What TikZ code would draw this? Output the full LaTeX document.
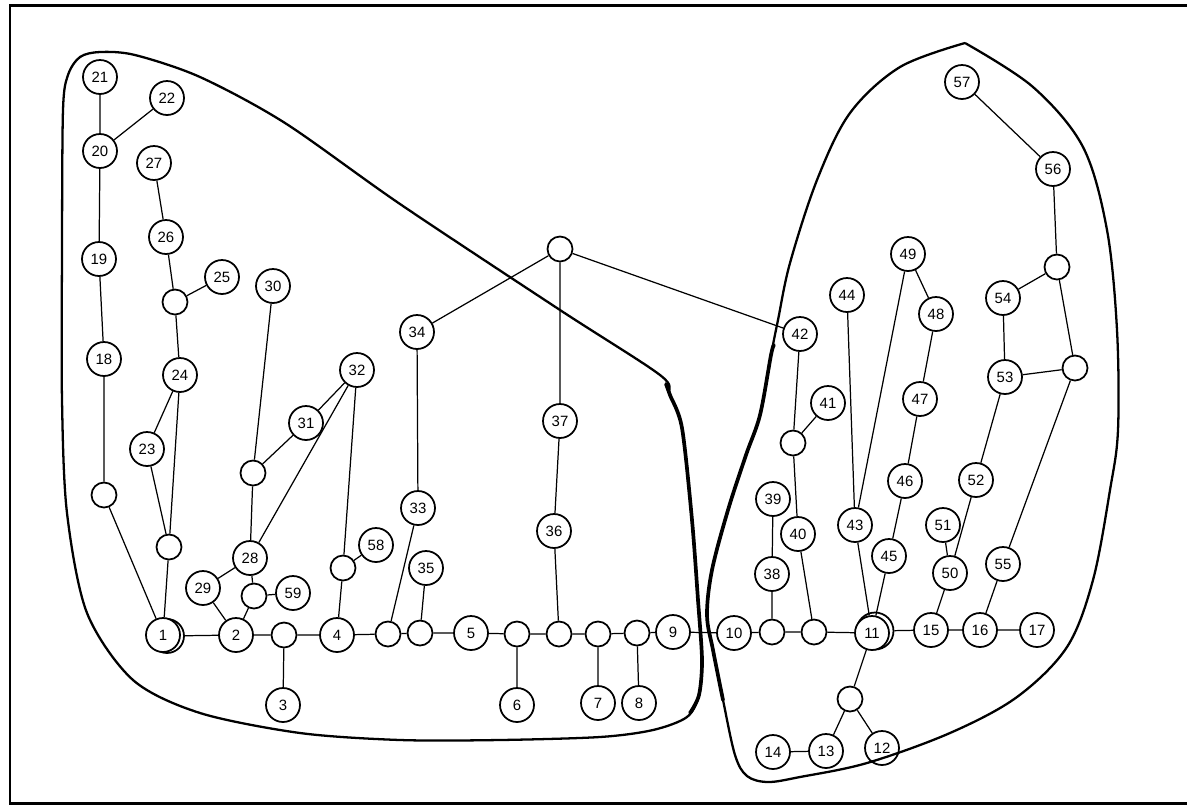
\documentclass[tikz,border=0pt]{standalone}
\usepackage{fontspec}
\setmainfont{Liberation Sans}
\begin{document}
\begin{tikzpicture}[x={(0.02cm,0)},y={(0,-0.02cm)},
  lab/.style={circle,draw,line width=1pt,minimum size=0.68cm,inner sep=0pt,font=\fontsize{8.5}{9}\selectfont},
  blank/.style={circle,draw,line width=1pt,minimum size=0.5cm,inner sep=0pt},
  edge/.style={line width=0.7pt},
  blob/.style={line width=1.3pt},
  thickblob/.style={line width=2.1pt,line cap=round},
  frame/.style={line width=1.7pt}]
\useasboundingbox (0,0) rectangle (1187,806);
\draw[frame] (1187,5) -- (10,5) -- (10,803) -- (1187,803);
% outlines
\draw[blob] plot[smooth cycle,tension=0.5] coordinates {(63,110) (68,75) (80,57) (100,52) (135,55) (200,77) (285,123) (400,204) (560,310) (660,375) (670,395) (682,428) (692,520) (698,600) (702,660) (699,695) (687,717) (653,730) (600,737) (500,740) (400,740) (300,733) (200,713) (133,680) (87,613) (67,513) (62,400) (62,250)};
\draw[thickblob] plot[smooth,tension=0.5] coordinates {(666,384) (670,395) (682,428) (692,520) (698,600) (702,660) (699,695) (690,713)};
\draw[blob] plot[smooth,tension=0.55] coordinates {(965,43) (1033,87) (1083,147) (1107,230) (1117,330) (1118,430) (1110,490) (1093,580) (1067,647) (1017,697) (950,733) (867,763) (800,777) (768,782) (747,776) (735,755) (723,700) (713,650) (707,615) (712,570) (728,510) (746,455) (760,415) (771,355) (778,320) (790,263) (817,180) (850,113) (900,67) (965,43)};
\draw[thickblob] plot[smooth,tension=0.55] coordinates {(774,345) (771,355) (760,415) (746,455) (728,510) (712,570) (707,615) (713,650) (723,700)};
% left nodes
\node[lab] (n21) at (100,77) {21};
\node[lab] (n22) at (167,98) {22};
\node[lab] (n20) at (100,151) {20};
\node[lab] (n27) at (154,163) {27};
\node[lab] (n26) at (166,237) {26};
\node[lab] (n19) at (99,259) {19};
\node[lab] (n25) at (222,277) {25};
\node[blank] (bA) at (175,302) {};
\node[lab] (n30) at (273,286) {30};
\node[lab] (n18) at (104,359) {18};
\node[lab] (n24) at (180,375) {24};
\node[lab] (n32) at (357,370) {32};
\node[lab] (n31) at (306,423) {31};
\node[lab] (n23) at (147,449) {23};
\node[blank] (bB) at (253,473) {};
\node[blank] (bC) at (104,495) {};
\node[blank] (bD) at (169,547) {};
\node[lab] (n28) at (250,558) {28};
\node[lab] (n58) at (376,545) {58};
\node[blank] (bE) at (343,568) {};
\node[lab] (n29) at (203,588) {29};
\node[blank] (bF) at (254,596) {};
\node[lab] (n59) at (293,593) {59};
\node[lab] (n1b) at (167,636) {};
\node[lab,fill=white] (n1) at (163,635) {1};
\node[lab] (n2) at (236,635) {2};
\node[blank] (bG) at (284,635) {};
\node[lab] (n4) at (337,635) {4};
\node[blank] (bH) at (388,634) {};
\node[lab] (n3) at (283,705) {3};
\node[blank] (hub) at (560,249) {};
\node[lab] (n34) at (417,332) {34};
\node[lab] (n37) at (560,421) {37};
\node[lab] (n33) at (418,508) {33};
\node[lab] (n36) at (554,531) {36};
\node[lab] (n35) at (426,568) {35};
\node[blank] (bI) at (420,633) {};
\node[lab] (n5) at (471,633) {5};
\node[blank] (bJ) at (517,634) {};
\node[blank] (bK) at (559,634) {};
\node[blank] (bL) at (598,634) {};
\node[blank] (bM) at (637,633) {};
\node[lab] (n9) at (673,632) {9};
\node[lab] (n6) at (517,705) {6};
\node[lab] (n7) at (598,703) {7};
\node[lab] (n8) at (639,703) {8};
% right nodes
\node[lab] (n10) at (734,633) {10};
\node[lab] (n57) at (962,82) {57};
\node[lab] (n56) at (1053,169) {56};
\node[lab] (n49) at (908,254) {49};
\node[blank] (bN) at (1057,267) {};
\node[lab] (n44) at (847,295) {44};
\node[lab] (n54) at (1003,298) {54};
\node[lab] (n48) at (936,314) {48};
\node[lab] (n42) at (800,334) {42};
\node[lab] (n53) at (1005,377) {53};
\node[blank] (bO) at (1075,368) {};
\node[lab] (n47) at (920,399) {47};
\node[lab] (n41) at (828,403) {41};
\node[blank] (bP) at (793,443) {};
\node[lab] (n46) at (905,481) {46};
\node[lab] (n52) at (976,480) {52};
\node[lab] (n39) at (773,499) {39};
\node[lab] (n51) at (943,525) {51};
\node[lab] (n43) at (855,525) {43};
\node[lab] (n40) at (798,534) {40};
\node[lab] (n45) at (889,556) {45};
\node[lab] (n55) at (1003,564) {55};
\node[lab] (n50) at (950,573) {50};
\node[lab] (n38) at (772,574) {38};
\node[blank] (bQ) at (772,632) {};
\node[blank] (bR) at (814,632) {};
\node[lab,minimum size=0.74cm] (n11b) at (875,631) {};
\node[lab,fill=white] (n11) at (872,633) {11};
\node[lab] (n15) at (931,630) {15};
\node[lab] (n16) at (980,630) {16};
\node[lab] (n17) at (1037,630) {17};
\node[blank] (bS) at (850,699) {};
\node[lab] (n14) at (773,752) {14};
\node[lab] (n13) at (826,751) {13};
\node[lab] (n12) at (882,748) {12};
% edges
\draw[edge] (n21)--(n20) (n22)--(n20) (n20)--(n19) (n19)--(n18) (n18)--(bC) (bC)--(n1)
 (n27)--(n26) (n26)--(bA) (bA)--(n25) (bA)--(n24) (n24)--(n23) (n24)--(bD) (n23)--(bD) (bD)--(n1)
 (n30)--(bB) (bB)--(n31) (bB)--(n28) (n31)--(n32) (n32)--(n28) (n32)--(bE) (n58)--(bE) (bE)--(n4)
 (n28)--(n29) (n29)--(n2) (n28)--(bF) (bF)--(n59) (bF)--(n2)
 (n1b)--(n2) (n2)--(bG) (bG)--(n4) (bG)--(n3) (n4)--(bH) (bH)--(bI) (bI)--(n5) (n5)--(bJ) (bJ)--(bK) (bK)--(bL) (bL)--(bM) (bM)--(n9) (n9)--(n10)
 (n33)--(bH) (n34)--(n33) (n35)--(bI) (n36)--(bK) (n37)--(n36) (hub)--(n37) (hub)--(n34) (hub)--(n42)
 (bJ)--(n6) (bL)--(n7) (bM)--(n8)
 (n10)--(bQ) (bQ)--(bR) (bR)--(n11) (n11b)--(n15) (n15)--(n16) (n16)--(n17)
 (n38)--(bQ) (n39)--(n38)
 (n42)--(bP) (bP)--(n41) (bP)--(n40) (n40)--(bR)
 (n44)--(n43) (n49)--(n43) (n43)--(n11)
 (n49)--(n48) (n48)--(n47) (n47)--(n46) (n46)--(n45) (n45)--(n11)
 (n51)--(n50) (n50)--(n15) (n52)--(n50) (n53)--(n52) (n54)--(n53) (bN)--(n54) (n56)--(bN) (n57)--(n56) (bN)--(bO) (bO)--(n53) (bO)--(n55) (n55)--(n16)
 (n11)--(bS) (bS)--(n13) (bS)--(n12) (n13)--(n14);
\end{tikzpicture}
\end{document}
